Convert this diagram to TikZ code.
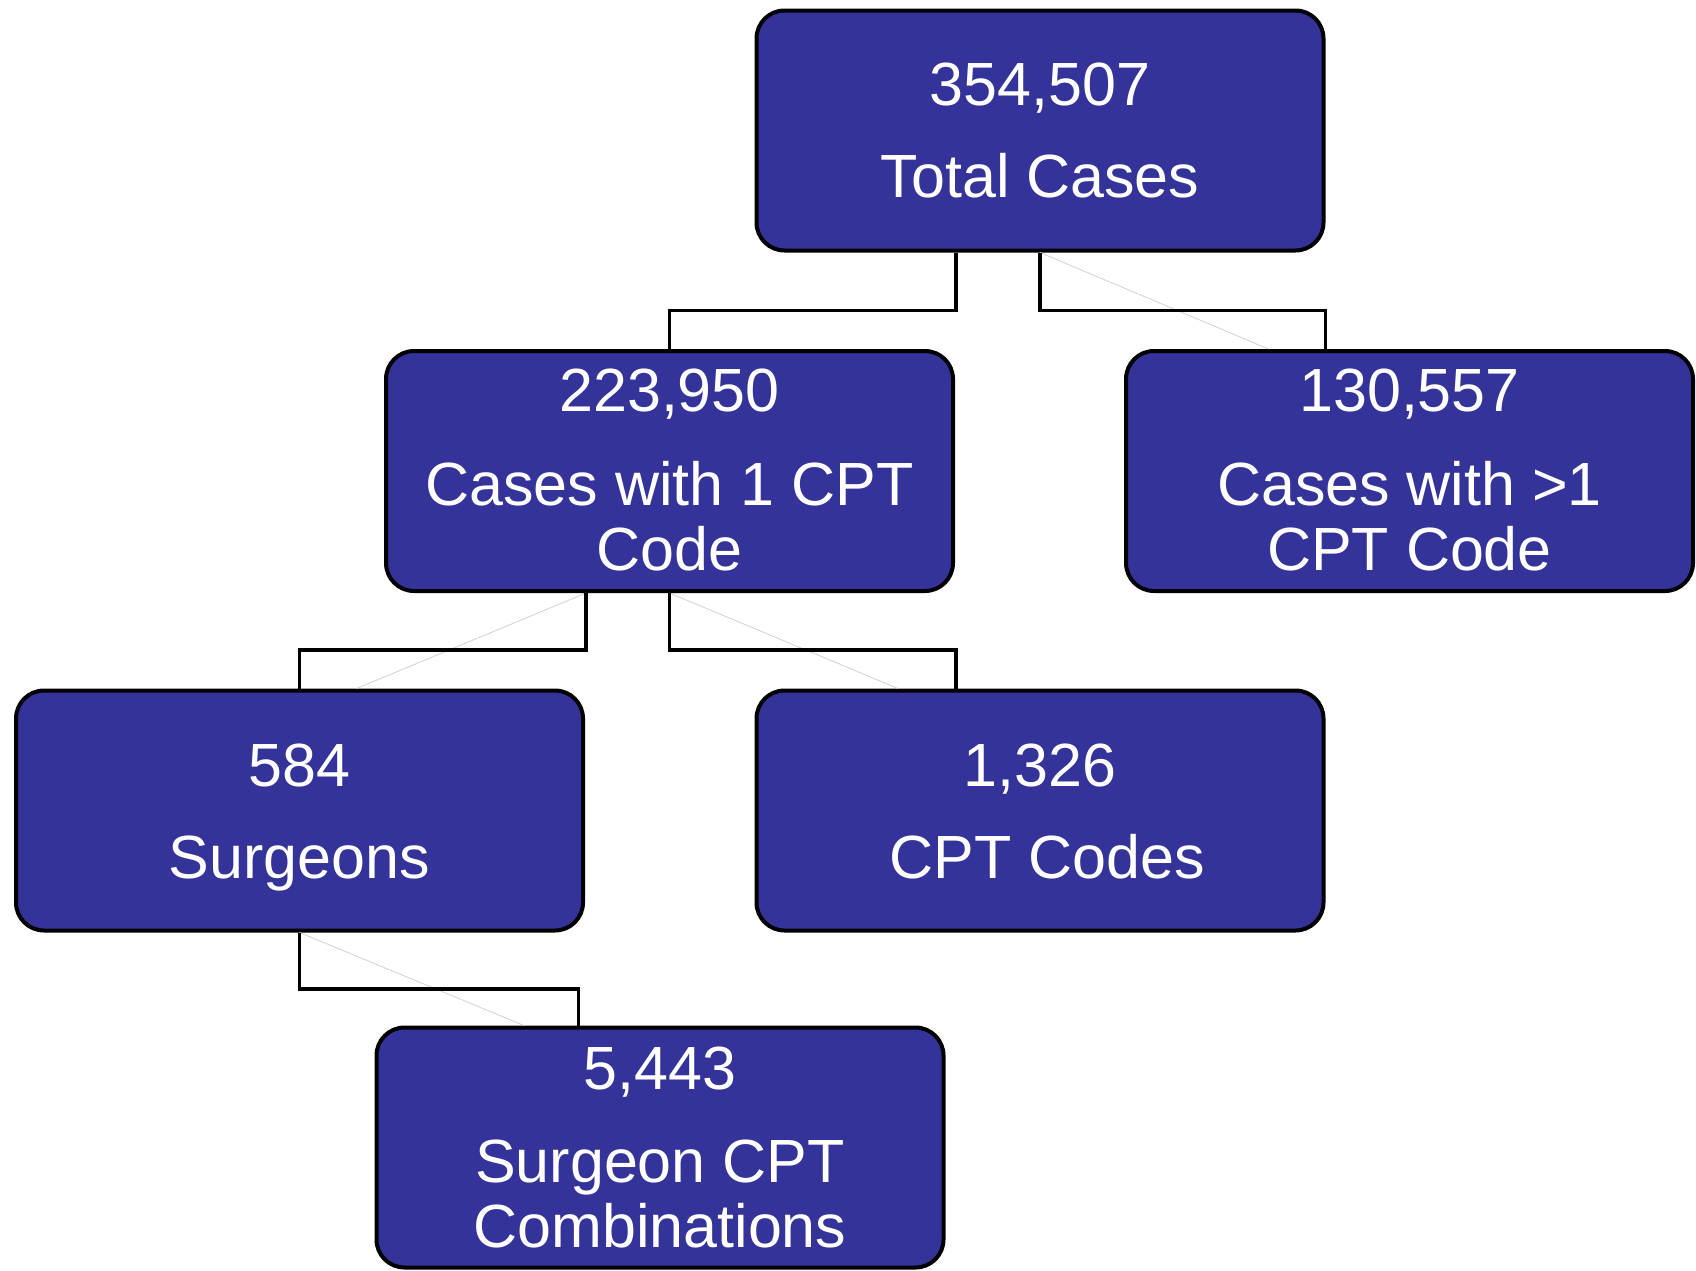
\documentclass[tikz,border=0pt]{standalone}
\usepackage{fontspec}
\setmainfont{Liberation Sans}
\definecolor{boxblue}{RGB}{51,51,153}
\tikzset{
  box/.style={draw=black, line width=4pt, fill=boxblue, rounded corners=28pt,
    minimum width=567pt, minimum height=240pt, inner sep=0pt},
  txt/.style={anchor=base, text=white, inner sep=0pt, font=\fontsize{61}{61}\selectfont},
  conn/.style={draw=black, line width=3.2pt},
  ghost/.style={draw=black!18, line width=0.8pt}
}
\begin{document}
\begin{tikzpicture}[x=1pt,y=-1pt]
\useasboundingbox (0,0) rectangle (1696,1270);
% boxes
\node[box] (top)  at (1040,130.5) {};
\node[box] (midL) at (669.5,471) {};
\node[box] (midR) at (1409.5,471) {};
\node[box] (r3L)  at (299.5,810.5) {};
\node[box] (r3R)  at (1040,810.5) {};
\node[box] (bot)  at (660,1147.5) {};
% texts
\node[txt] (t1a) at (1040,105) {354,507};
\node[txt] (t1b) at (1040,197) {Total Cases};
\node[txt] (t2a) at (669.5,411) {223,950};
\node[txt] (t2b) at (669.5,505) {Cases with 1 CPT};
\node[txt] (t2c) at (669.5,570) {Code};
\node[txt] (t3a) at (1409.5,411) {130,557};
\node[txt] (t3b) at (1409.5,505) {Cases with >1};
\node[txt] (t3c) at (1409.5,570) {CPT Code};
\node[txt] (t4a) at (299.5,786) {584};
\node[txt] (t4b) at (299.5,878) {Surgeons};
\node[txt] (t5a) at (1040,786) {1,326};
\node[txt] (t5b) at (1047.5,878) {CPT Codes};
\node[txt] (t6a) at (660,1089) {5,443};
\node[txt] (t6b) at (660,1182) {Surgeon CPT};
\node[txt] (t6c) at (660,1247) {Combinations};
% faint diagonals
\draw[ghost] (top.south) -- ([xshift=-141pt]midR.north);
\draw[ghost] ([xshift=-83.5pt]midL.south) -- ([xshift=57pt]r3L.north);
\draw[ghost] (midL.south) -- ([xshift=-142pt]r3R.north);
\draw[ghost] (r3L.south) -- ([xshift=-136pt]bot.north);
% connectors
\draw[conn] ([xshift=-84pt]top.south) -- ++(0,58) -| (midL.north);
\draw[conn] (top.south) -- ++(0,58) -| (midR.north -| top.east);
\draw[conn] ([xshift=-83.5pt]midL.south) -- ++(0,57) -| (r3L.north);
\draw[conn] (midL.south) -- ++(0,57) -| ([xshift=-84pt]r3R.north);
\draw[conn] (r3L.south) -- ++(0,56.5) -| ([xshift=-81.5pt]bot.north);
\end{tikzpicture}
\end{document}
